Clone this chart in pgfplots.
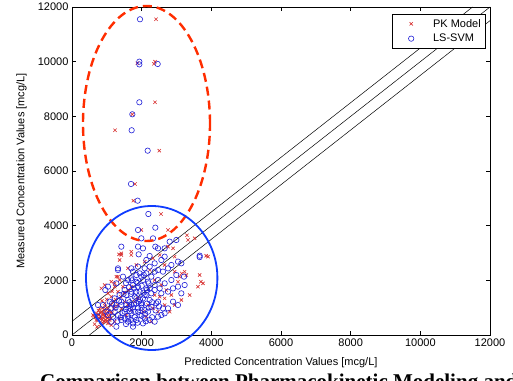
\documentclass[border=0pt]{standalone}
\usepackage{pgfplots}
\pgfplotsset{compat=1.18}
\usepackage{fontspec}
\setmainfont{Liberation Sans}
\newfontfamily\capfont{Liberation Serif}
\definecolor{pkred}{RGB}{215,45,45}
\definecolor{lsblue}{RGB}{30,30,215}
\definecolor{ellred}{RGB}{255,45,0}
\definecolor{ellblue}{RGB}{15,60,255}
\begin{document}
\begin{tikzpicture}[x=1pt,y=1pt]
\path[use as bounding box] (0,0) rectangle (513,380);
\begin{axis}[at={(72pt,45pt)}, anchor=south west, scale only axis,
  width=418pt, height=328pt,
  xmin=0, xmax=12000, ymin=0, ymax=12000,
  xtick={0,2000,...,12000}, ytick={0,2000,...,12000},
  tick align=inside, major tick length=4pt, scaled ticks=false,
  /pgf/number format/1000 sep={},
  /pgf/number format/assume math mode=true,
  tick label style={font=\fontsize{11}{13}\selectfont},
  label style={font=\fontsize{11}{13}\selectfont},
  xlabel={Predicted Concentration Values [mcg/L]},
  ylabel={Measured Concentration Values [mcg/L]},
  xlabel style={at={(axis description cs:0.5,-0.0854)}, anchor=center},
  ylabel style={at={(axis description cs:-0.121,0.5)}, anchor=center},
  legend style={at={(0.988,0.979)}, anchor=north east, draw=black, fill=white,
    font=\fontsize{11}{13}\selectfont, inner xsep=2pt, inner ysep=3pt, row sep=1.5pt},
  legend cell align=left,
  legend image code/.code={\path[draw=none] (0,0) -- (1.3cm,0); \draw[#1, only marks] plot coordinates {(0.6cm,0cm)};},
  clip=false,
  axis line style={line width=0.6pt},
  every tick/.style={black, line width=0.5pt},
]
\addplot[only marks, mark=x, mark size=2.3pt, pkred, line width=0.6pt] coordinates {
(2412,11551)(1876,9940)(2383,10000)(2350,9920)(2383,8514)(1732,8075)(1235,7490)
(2507,6744)(1809,5525)(1761,4914)(2555,4427)
(2756,3842)(1990,3842)(1416,2988)(1350,2950)(1703,2927)(2756,3232)(3521,3537)
(3300,3650)(3904,2866)(3850,2900)(3665,2195)(3761,1890)(3617,1768)(3700,1950)
(3139,1280)(3282,2195)(3150,2250)(1225,1890)(1320,2134)(1607,2439)
(2325,2805)(2947,2866)(2947,2317)(2852,1463)(2469,853)(603,731)
(1703,3049)(1416,2927)(1368,2744)(1847,2561)(2086,2683)(2517,2927)(2900,3171)
(3330,3476)(2660,2561)(2230,2378)(2373,2012)(2565,1829)(2708,1646)(3043,1951)
(3090,2134)(3234,2317)(3378,1463)
(842,1707)(938,1829)(1129,1951)(1225,1768)(1273,2134)(1368,2012)(1033,1524)
(1129,1402)(1320,1585)(1464,1768)(1608,1646)(1703,1768)(1177,1219)(938,1158)
(794,975)(890,792)(985,670)(1081,548)(842,609)(938,487)(1033,426)(746,548)
(1129,853)(1225,1036)(1320,1097)(1416,975)(1512,1219)(1608,1097)(1703,914)
(1799,1219)(1895,1341)(1560,731)(1368,609)(1225,487)(1129,365)(2038,853)
(2182,1097)(2325,975)(2134,670)(2277,487)(2660,1097)(2804,853)(2947,1097)
(2373,1463)(2517,1402)(2660,1341)
(842,853)(890,731)(823,670)(918,914)(985,792)(1033,975)(861,548)(765,731)
(1081,731)(1014,609)(650,400)(700,550)(620,700)(720,300)(900,620)(960,560)
(870,450)(1050,680)(800,820)(980,900)
(700,800)(760,900)(880,1000)(940,700)(1000,500)(1100,600)(1150,800)(1200,950)
(820,380)(780,620)(680,650)(1060,880)(1120,1100)(960,1050)(860,1250)(1250,1300)
(1400,1400)(1500,1550)(1150,1600)(1000,1300)
};
\addlegendentry{PK Model}
\addplot[only marks, mark=o, mark size=2.7pt, lsblue, line width=0.6pt] coordinates {
(1952,11551)(1933,10000)(1933,9900)(2460,9915)(1933,8514)(1732,8075)(1713,7490)
(2173,6744)(1694,5525)(1886,4914)(2192,4427)
(2392,3927)(1895,3842)(1990,3537)(1416,3232)(1895,3232)(2392,3232)(1914,2951)
(2230,2890)(2660,3171)(2995,3476)(3665,2903)(3665,2850)(1320,2439)(957,1646)
(1464,2134)(1703,2073)(1942,2256)(2201,1890)(2469,2378)(2756,2439)(2995,2195)
(2900,1707)(3139,1524)(3215,2134)(2469,1219)(2565,731)(2373,487)(1751,426)
(1129,487)(1273,304)(1512,609)(2086,609)(2756,975)(746,1097)(1560,1463)
(1847,1585)(2134,1463)(2230,1707)(1990,1158)(1703,1097)(1416,1097)(1225,853)
(1033,731)(746,670)
(2038,3171)(2325,3537)(2469,3171)(2134,2744)(2373,2622)(2565,2744)(2852,2561)
(3043,2683)(2612,2317)(2373,2317)(2086,2439)(1751,2317)(1608,2012)(1847,1951)
(2038,2012)(2277,2134)(2469,2012)(2660,1890)(2852,2012)(3043,1768)(2756,1585)
(2565,1524)(2373,1646)(2134,1707)(1895,1768)(1703,1585)(1512,1646)(1368,1463)
(1225,1341)(1081,1219)(1608,1280)(1799,1402)(2038,1341)(2230,1280)(2421,1158)
(2612,975)(2900,1219)(3043,1097)(2277,1036)(2086,914)(1895,975)(1703,792)
(1512,853)(1320,731)(1177,670)(1416,548)(1608,487)(1847,548)(2038,426)
(2230,548)(2469,670)(2660,792)(1942,731)(1751,304)(2182,853)(1990,1097)
(1799,853)(1655,975)(1560,1097)(1847,1158)(2086,1463)(2277,1524)(1942,1585)
(1751,1829)(1990,2134)(2182,1951)(1847,2195)(2134,2256)(2230,2500)(1895,2500)
(1703,2439)(1320,2378)(1273,1890)(1033,1768)(1129,975)(985,853)(890,1097)
(1416,1219)(1273,1097)(2373,1829)(2517,1707)(3234,1829)(3139,2622)(2660,2866)
(2804,3415)(1650,1200)(1750,1000)(1900,850)(2000,700)(1800,650)(1600,700)
(1950,1300)(2150,1150)(1850,1350)(2050,1550)(1700,1500)(1550,1900)
(1620,600)(1700,550)(1880,450)(2120,500)(2300,650)(1450,800)(1550,950)
(1650,870)(1780,1120)(1920,1220)(2000,1000)(2100,780)(2200,1000)(2300,1200)
(2150,1650)(2000,1800)(1880,1900)(1780,1700)(1640,1750)(1480,1500)(1350,1250)
(1250,1000)(1150,1150)(1400,650)(1300,500)(1550,400)(2400,900)(2500,1050)
(1720,2000)(2060,2200)
};
\addlegendentry{LS-SVM}
\addplot[black, line width=0.5pt, forget plot] coordinates {(0,500)(11500,12000)};
\addplot[black, line width=0.5pt, forget plot] coordinates {(0,0)(12000,12000)};
\addplot[black, line width=0.5pt, forget plot] coordinates {(500,0)(12000,11500)};
\end{axis}
\draw[ellred, line width=2.4pt, dash pattern=on 9pt off 5pt] (146.5,256.5) ellipse [x radius=63.5, y radius=117.5];
\draw[ellblue, line width=1.8pt] (151.7,102) ellipse [x radius=65.7, y radius=72];
\node[anchor=base west, inner sep=0pt, font=\capfont\bfseries\fontsize{21}{24}\selectfont] at (40,-8.9) {Comparison between Pharmacokinetic Modeling and};
\end{tikzpicture}
\end{document}
